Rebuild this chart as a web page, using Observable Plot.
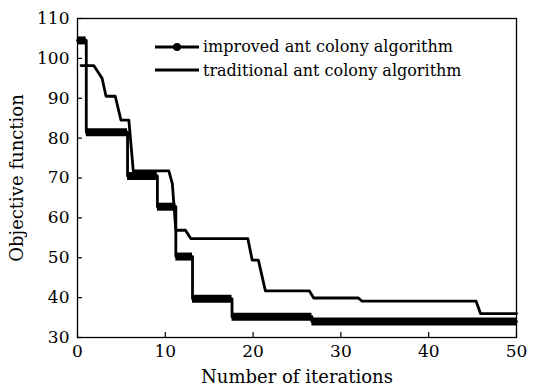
<!DOCTYPE html>
<html><head><meta charset="utf-8">
<script src="https://cdn.jsdelivr.net/npm/d3@7"></script>
<script src="https://cdn.jsdelivr.net/npm/@observablehq/plot@0.6"></script>
<style>
body{margin:0;background:#fff;}
#wrap{position:relative;width:539px;height:389px;}
#legend{position:absolute;left:155px;top:35px;font-family:"DejaVu Serif";font-size:16px;color:#000;}
.row{display:flex;align-items:center;height:23.5px;white-space:nowrap;}
.row svg{margin-right:4px;display:block}
</style></head><body>
<div id="wrap"><div id="legend"></div></div>
<script>
// Improved ant colony algorithm: step levels (start iteration, end iteration, value)
const improvedStart = [0, 1.0, 5.7, 9.1, 11.2, 13.1, 17.6, 26.7];
const improvedEnd   = [1.0, 5.7, 9.1, 11.2, 13.1, 17.6, 26.7, 50];
const improvedValue = [104.5, 81.5, 70.5, 62.8, 50.3, 39.7, 35.2, 34];
// Traditional ant colony algorithm: polyline vertices
const tradX = [0.4, 1.85, 2.8, 3.25, 4.3, 4.95, 5.85, 6.35, 10.4, 10.8, 11.2, 12.3, 12.9, 19.4, 19.9, 20.6, 21.4, 26.4, 26.9, 32.0, 32.4, 45.4, 45.9, 50];
const tradY = [98.2, 98.2, 95, 90.5, 90.5, 84.5, 84.5, 71.8, 71.8, 68.6, 56.9, 56.9, 54.8, 54.8, 49.4, 49.4, 41.7, 41.7, 39.9, 39.9, 39.1, 39.1, 36, 36];
const xTicks = [0, 10, 20, 30, 40, 50];
const yTicks = [30, 40, 50, 60, 70, 80, 90, 100, 110];
const seriesNames = ["improved ant colony algorithm", "traditional ant colony algorithm"];

const improvedLine = [];
const improvedBands = [];
improvedValue.forEach((v, i) => {
  improvedLine.push({x: improvedStart[i], y: v});
  improvedLine.push({x: improvedEnd[i], y: v});
  improvedBands.push({x1: improvedStart[i], x2: improvedEnd[i], y: v});
});
const trad = tradX.map((x, i) => ({x, y: tradY[i]}));

const W = 539, H = 389, mL = 77, mR = 23, mT = 18, mB = 52;
const innerW = W - mL - mR, innerH = H - mT - mB;

const plot = Plot.plot({
  width: W, height: H,
  marginLeft: mL, marginRight: mR, marginTop: mT, marginBottom: mB,
  style: {fontFamily: "DejaVu Serif", fontSize: "17px", color: "#000", background: "#fff"},
  x: {domain: [0, 50]},
  y: {domain: [30, 110]},
  marks: [
    Plot.axisX({ticks: xTicks, tickSize: 0, tickPadding: 7, tickFormat: d => String(d), label: null}),
    Plot.axisY({ticks: yTicks, tickSize: 0, tickPadding: 8, tickFormat: d => String(d), label: null}),
    Plot.tickX(xTicks, {x: d => d, stroke: "#000", strokeWidth: 1.2, insetTop: innerH - 5}),
    Plot.tickY(yTicks, {y: d => d, stroke: "#000", strokeWidth: 1.2, insetRight: innerW - 5}),
    Plot.axisX({ticks: [], label: "Number of iterations", labelAnchor: "center", labelArrow: "none", labelOffset: 45, fontSize: 18}),
    Plot.axisY({ticks: [], label: "Objective function", labelAnchor: "center", labelArrow: "none", labelOffset: 67, fontSize: 18}),
    Plot.line(trad, {x: "x", y: "y", stroke: "#000", strokeWidth: 2.8, strokeLinejoin: "round"}),
    Plot.line(improvedLine, {x: "x", y: "y", stroke: "#000", strokeWidth: 2.8}),
    Plot.ruleY(improvedBands, {x1: "x1", x2: "x2", y: "y", stroke: "#000", strokeWidth: 8}),
    Plot.frame({stroke: "#000", strokeWidth: 1.3})
  ]
});
document.getElementById("wrap").prepend(plot);

const legend = document.getElementById("legend");
seriesNames.forEach((name, i) => {
  const row = document.createElement("div");
  row.className = "row";
  row.innerHTML = `<svg width="44" height="10"><line x1="0" y1="5" x2="44" y2="5" stroke="#000" stroke-width="2.8"/>${i === 0 ? '<circle cx="22" cy="5" r="4" fill="#000"/>' : ''}</svg><span>${name}</span>`;
  legend.appendChild(row);
});
</script>
</body></html>
